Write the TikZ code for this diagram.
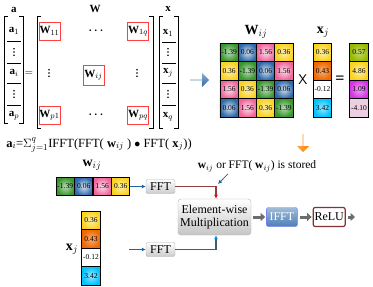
\documentclass[tikz,border=0pt]{standalone}
\usepackage{amsmath, amssymb}
\usepackage{fontspec}
\setmainfont{Liberation Serif}
\usepackage{xcolor}
\usepackage{tikz}
\usetikzlibrary{arrows.meta}
\usetikzlibrary{shapes.arrows}
\usetikzlibrary{positioning}

\definecolor{cgreen}{RGB}{55,150,45}
\definecolor{cblue}{RGB}{45,105,170}
\definecolor{cpink}{RGB}{240,100,155}
\definecolor{cyellow}{RGB}{250,210,30}
\definecolor{corange}{RGB}{240,105,0}
\definecolor{ccyan}{RGB}{0,195,255}
\definecolor{clime}{RGB}{150,185,0}
\definecolor{cmag}{RGB}{215,50,230}
\definecolor{clav}{RGB}{236,208,226}
\definecolor{relured}{RGB}{130,50,50}
\definecolor{linkblue}{RGB}{30,100,160}
\definecolor{redline}{RGB}{150,60,60}
\definecolor{blueline}{RGB}{60,95,120}

% three stacked dots, drawn as shapes
\newcommand{\vdotsat}[2]{\fill (#1,#2-3.2) circle (0.85) (#1,#2) circle (0.85) (#1,#2+3.2) circle (0.85);}

\tikzset{
  cell/.style={draw=black, line width=0.8pt, minimum width=18.25pt, minimum height=18.5pt,
    inner sep=0pt, font=\fontsize{7.5}{8}\selectfont},
  gcell/.style={cell, inner color=cgreen!35, outer color=cgreen},
  bcell/.style={cell, inner color=cblue!20, outer color=cblue},
  pcell/.style={cell, inner color=cpink!20, outer color=cpink},
  ycell/.style={cell, inner color=cyellow!35, outer color=cyellow},
  ocell/.style={cell, inner color=corange!55, outer color=corange},
  wcell/.style={cell, fill=white},
  ccell/.style={cell, inner color=ccyan!40, outer color=ccyan},
  lcell/.style={cell, inner color=clime!55, outer color=clime},
  mcell/.style={cell, inner color=cmag!45, outer color=cmag},
  vcell/.style={cell, fill=clav},
  redbox/.style={draw=red!75, line width=0.9pt, minimum width=21pt, minimum height=18pt, inner sep=0pt},
  vecentry/.style={font=\fontsize{11}{12}\selectfont, inner sep=0pt},
  fftbox/.style={draw=gray!60, top color=white, bottom color=gray!40, rounded corners=2pt,
    minimum width=29pt, minimum height=14pt, inner sep=0pt, font=\fontsize{12}{13}\selectfont},
  linkarrow/.style={draw=linkblue, line width=0.8pt, -{Latex[length=4pt,width=4pt]}},
  flowarrow/.style={draw=gray!85!black, line width=3pt, -{Triangle[length=4.5pt,width=8pt]}, shorten <=2pt, shorten >=1pt},
}

\begin{document}
\begin{tikzpicture}[x=1pt,y=-1pt]
    \useasboundingbox (0,0) rectangle (373,287);

    % vector a
    \node[vecentry] (lbla) at (14,10) {$\mathbf{a}$};
    \draw[line width=0.9pt] (8,16) -- (4,16) -- (4,123) -- (8,123);
    \draw[line width=0.9pt] (19,16) -- (23,16) -- (23,123) -- (19,123);
    \node[vecentry] (a1) at (14,31) {$\mathbf{a}_1$};
    \vdotsat{14}{52}
    \node[vecentry] (ai) at (14,73) {$\mathbf{a}_i$};
    \vdotsat{14}{94}
    \node[vecentry] (ap) at (14,116) {$\mathbf{a}_p$};
    \draw (7,41) -- (21,41);
    \draw (7,63) -- (21,63);
    \draw (7,83) -- (21,83);
    \draw (7,105) -- (21,105);
    \node[vecentry] (eq1) at (29,73) {$=$};

    % matrix W
    \node[vecentry] (lblW) at (95,9) {$\mathbf{W}$};
    \draw[line width=0.9pt] (41,16) -- (37,16) -- (37,128) -- (41,128);
    \draw[line width=0.9pt] (149,16) -- (153,16) -- (153,128) -- (149,128);
    \node[redbox, vecentry, minimum width=21pt, minimum height=18pt] (w11) at (49.5,31) {$\mathbf{W}_{11}$};
    \node[vecentry] (wdots1) at (97,31) {$\boldsymbol{\cdots}$};
    \node[redbox, vecentry, minimum width=21pt, minimum height=18pt] (w1q) at (138,31) {$\mathbf{W}_{1q}$};
    \vdotsat{49}{73}
    \node[redbox, vecentry, minimum width=21pt, minimum height=20pt] (wij) at (93.5,75) {$\mathbf{W}_{ij}$};
    \vdotsat{137}{73}
    \node[redbox, vecentry, minimum width=21pt, minimum height=18pt] (wp1) at (49.5,115) {$\mathbf{W}_{p1}$};
    \node[vecentry] (wdots4) at (97,115) {$\boldsymbol{\cdots}$};
    \node[redbox, vecentry, minimum width=21pt, minimum height=18pt] (wpq) at (138,115) {$\mathbf{W}_{pq}$};

    % vector x
    \node[vecentry] (lblx) at (168,9) {$\mathbf{x}$};
    \draw[line width=0.9pt] (163,16) -- (159,16) -- (159,128) -- (163,128);
    \draw[line width=0.9pt] (174,16) -- (178,16) -- (178,128) -- (174,128);
    \node[vecentry] (x1) at (168,33) {$\mathbf{x}_1$};
    \vdotsat{168}{52}
    \node[vecentry] (xj) at (168,73) {$\mathbf{x}_j$};
    \vdotsat{168}{94}
    \node[vecentry] (xq) at (168,117) {$\mathbf{x}_q$};
    \draw (162,42) -- (176,42);
    \draw (162,63) -- (176,63);
    \draw (162,83) -- (176,83);
    \draw (162,105) -- (176,105);

    \node[font=\fontsize{12.5}{13}\selectfont, inner sep=0pt] (formula) at (99,145)
        {$\mathbf{a}_i$=$\Sigma_{j=1}^{q}$IFFT(FFT( $\mathbf{w}_{ij}$ ) $\bullet$ FFT( $\mathbf{x}_j$))};

    % arrows between parts
    \node[single arrow, single arrow head extend=3pt, minimum height=19pt, minimum width=14pt,
        inner sep=0pt, top color=cblue!55, bottom color=cblue] (toright) at (199.5,80) {};
    \node[single arrow, shape border rotate=270, single arrow head extend=2.5pt, minimum height=18pt,
        minimum width=12pt, inner sep=0pt, left color=orange!70, right color=orange] (todown) at (303,143) {};

    % circulant block
    \node[font=\fontsize{14}{15}\selectfont, inner sep=0pt] (lblWij) at (256,32) {$\mathbf{W}_{ij}$};
    \node[gcell] (m11) at (229.1,52.25) {-1.39};
    \node[bcell] (m12) at (247.4,52.25) {0.06};
    \node[pcell] (m13) at (265.6,52.25) {1.56};
    \node[ycell] (m14) at (283.9,52.25) {0.36};
    \node[ycell] (m21) at (229.1,70.75) {0.36};
    \node[gcell] (m22) at (247.4,70.75) {-1.39};
    \node[bcell] (m23) at (265.6,70.75) {0.06};
    \node[pcell] (m24) at (283.9,70.75) {1.56};
    \node[pcell] (m31) at (229.1,89.25) {1.56};
    \node[ycell] (m32) at (247.4,89.25) {0.36};
    \node[gcell] (m33) at (265.6,89.25) {-1.39};
    \node[bcell] (m34) at (283.9,89.25) {0.06};
    \node[bcell] (m41) at (229.1,107.75) {0.06};
    \node[pcell] (m42) at (247.4,107.75) {1.56};
    \node[ycell] (m43) at (265.6,107.75) {0.36};
    \node[gcell] (m44) at (283.9,107.75) {-1.39};
    \node[font=\sffamily\fontsize{14}{15}\selectfont, inner sep=0pt] (times) at (303,80) {X};
    \node[font=\fontsize{14}{15}\selectfont, inner sep=0pt] (lblxj) at (323,32) {$\mathbf{x}_j$};
    \node[ycell] (xa1) at (322.5,52.25) {0.36};
    \node[ocell] (xa2) at (322.5,70.75) {0.43};
    \node[wcell] (xa3) at (322.5,89.25) {-0.12};
    \node[ccell] (xa4) at (322.5,107.75) {3.42};
    \node[font=\bfseries\fontsize{16}{17}\selectfont, inner sep=0pt] (eq2) at (340,80) {=};
    \node[lcell] (r1) at (359,52.25) {0.57};
    \node[ycell] (r2) at (359,70.75) {4.86};
    \node[mcell] (r3) at (359,89.25) {1.09};
    \node[vcell] (r4) at (359,107.75) {-4.10};

    % FFT pipeline
    \node[font=\fontsize{14}{15}\selectfont, inner sep=0pt] (lblw) at (92,165) {$\mathbf{w}_{ij}$};
    \node[gcell] (w1) at (65.25,186.5) {-1.39};
    \node[bcell] (w2) at (83.75,186.5) {0.06};
    \node[pcell] (w3) at (102.25,186.5) {1.56};
    \node[ycell] (w4) at (120.75,186.5) {0.36};
    \node[font=\fontsize{14}{15}\selectfont, inner sep=0pt] (lblx2) at (72,249) {$\mathbf{x}_j$};
    \node[ycell] (xb1) at (91,220.25) {0.36};
    \node[ocell] (xb2) at (91,238.75) {0.43};
    \node[wcell] (xb3) at (91,257.25) {-0.12};
    \node[ccell] (xb4) at (91,275.75) {3.42};

    \node[fftbox] (fft1) at (160.5,186.5) {FFT};
    \node[fftbox] (fft2) at (160.5,249.5) {FFT};
    \coordinate (xin) at (129,249.5);
    \draw[linkarrow] (w4) -- (fft1);
    \draw[linkarrow] (xin) -- (fft2);

    \node[draw=gray!60, top color=white, bottom color=gray!45, rounded corners=3pt, minimum width=73pt,
        minimum height=36pt, inner sep=0pt, align=center, font=\fontsize{12}{13.5}\selectfont] (elem) at (214.5,217)
        {Element-wise\\Multiplication};
    \node[draw=blue!55, top color=cblue!45, bottom color=cblue!85, text=white, rounded corners=2pt,
        minimum width=31pt, minimum height=19pt, inner sep=0pt, font=\fontsize{12}{13}\selectfont,
        right=15pt of elem] (ifft) {IFFT};
    \node[draw=relured, line width=1.2pt, fill=white, rounded corners=2pt, minimum width=32pt,
        minimum height=19pt, inner sep=0pt, font=\fontsize{12}{13}\selectfont,
        right=15pt of ifft] (relu) {ReLU};
    \coordinate (out) at (356,217);

    \draw[redline, line width=1.1pt, -{Latex[length=4pt,width=4pt,red]}] (fft1.east) -| ([xshift=1.5pt]elem.north);
    \draw[blueline, line width=1.1pt, -{Latex[length=4pt,width=4pt,cyan!80!blue]}] (fft2.east) -| ([xshift=1.5pt]elem.south);
    \draw[flowarrow] (elem) -- (ifft);
    \draw[flowarrow] (ifft) -- (relu);
    \draw[flowarrow] (relu) -- (out);

    \node[font=\fontsize{11.5}{12}\selectfont, inner sep=0pt] (note) at (257,166)
        {$\mathbf{w}_{ij}$ or FFT( $\mathbf{w}_{ij}$) is stored};
    \coordinate (store) at (218,184);
    \draw[linkarrow] ([xshift=-29pt,yshift=-2pt]note.south) -- (store);
\end{tikzpicture}
\end{document}
